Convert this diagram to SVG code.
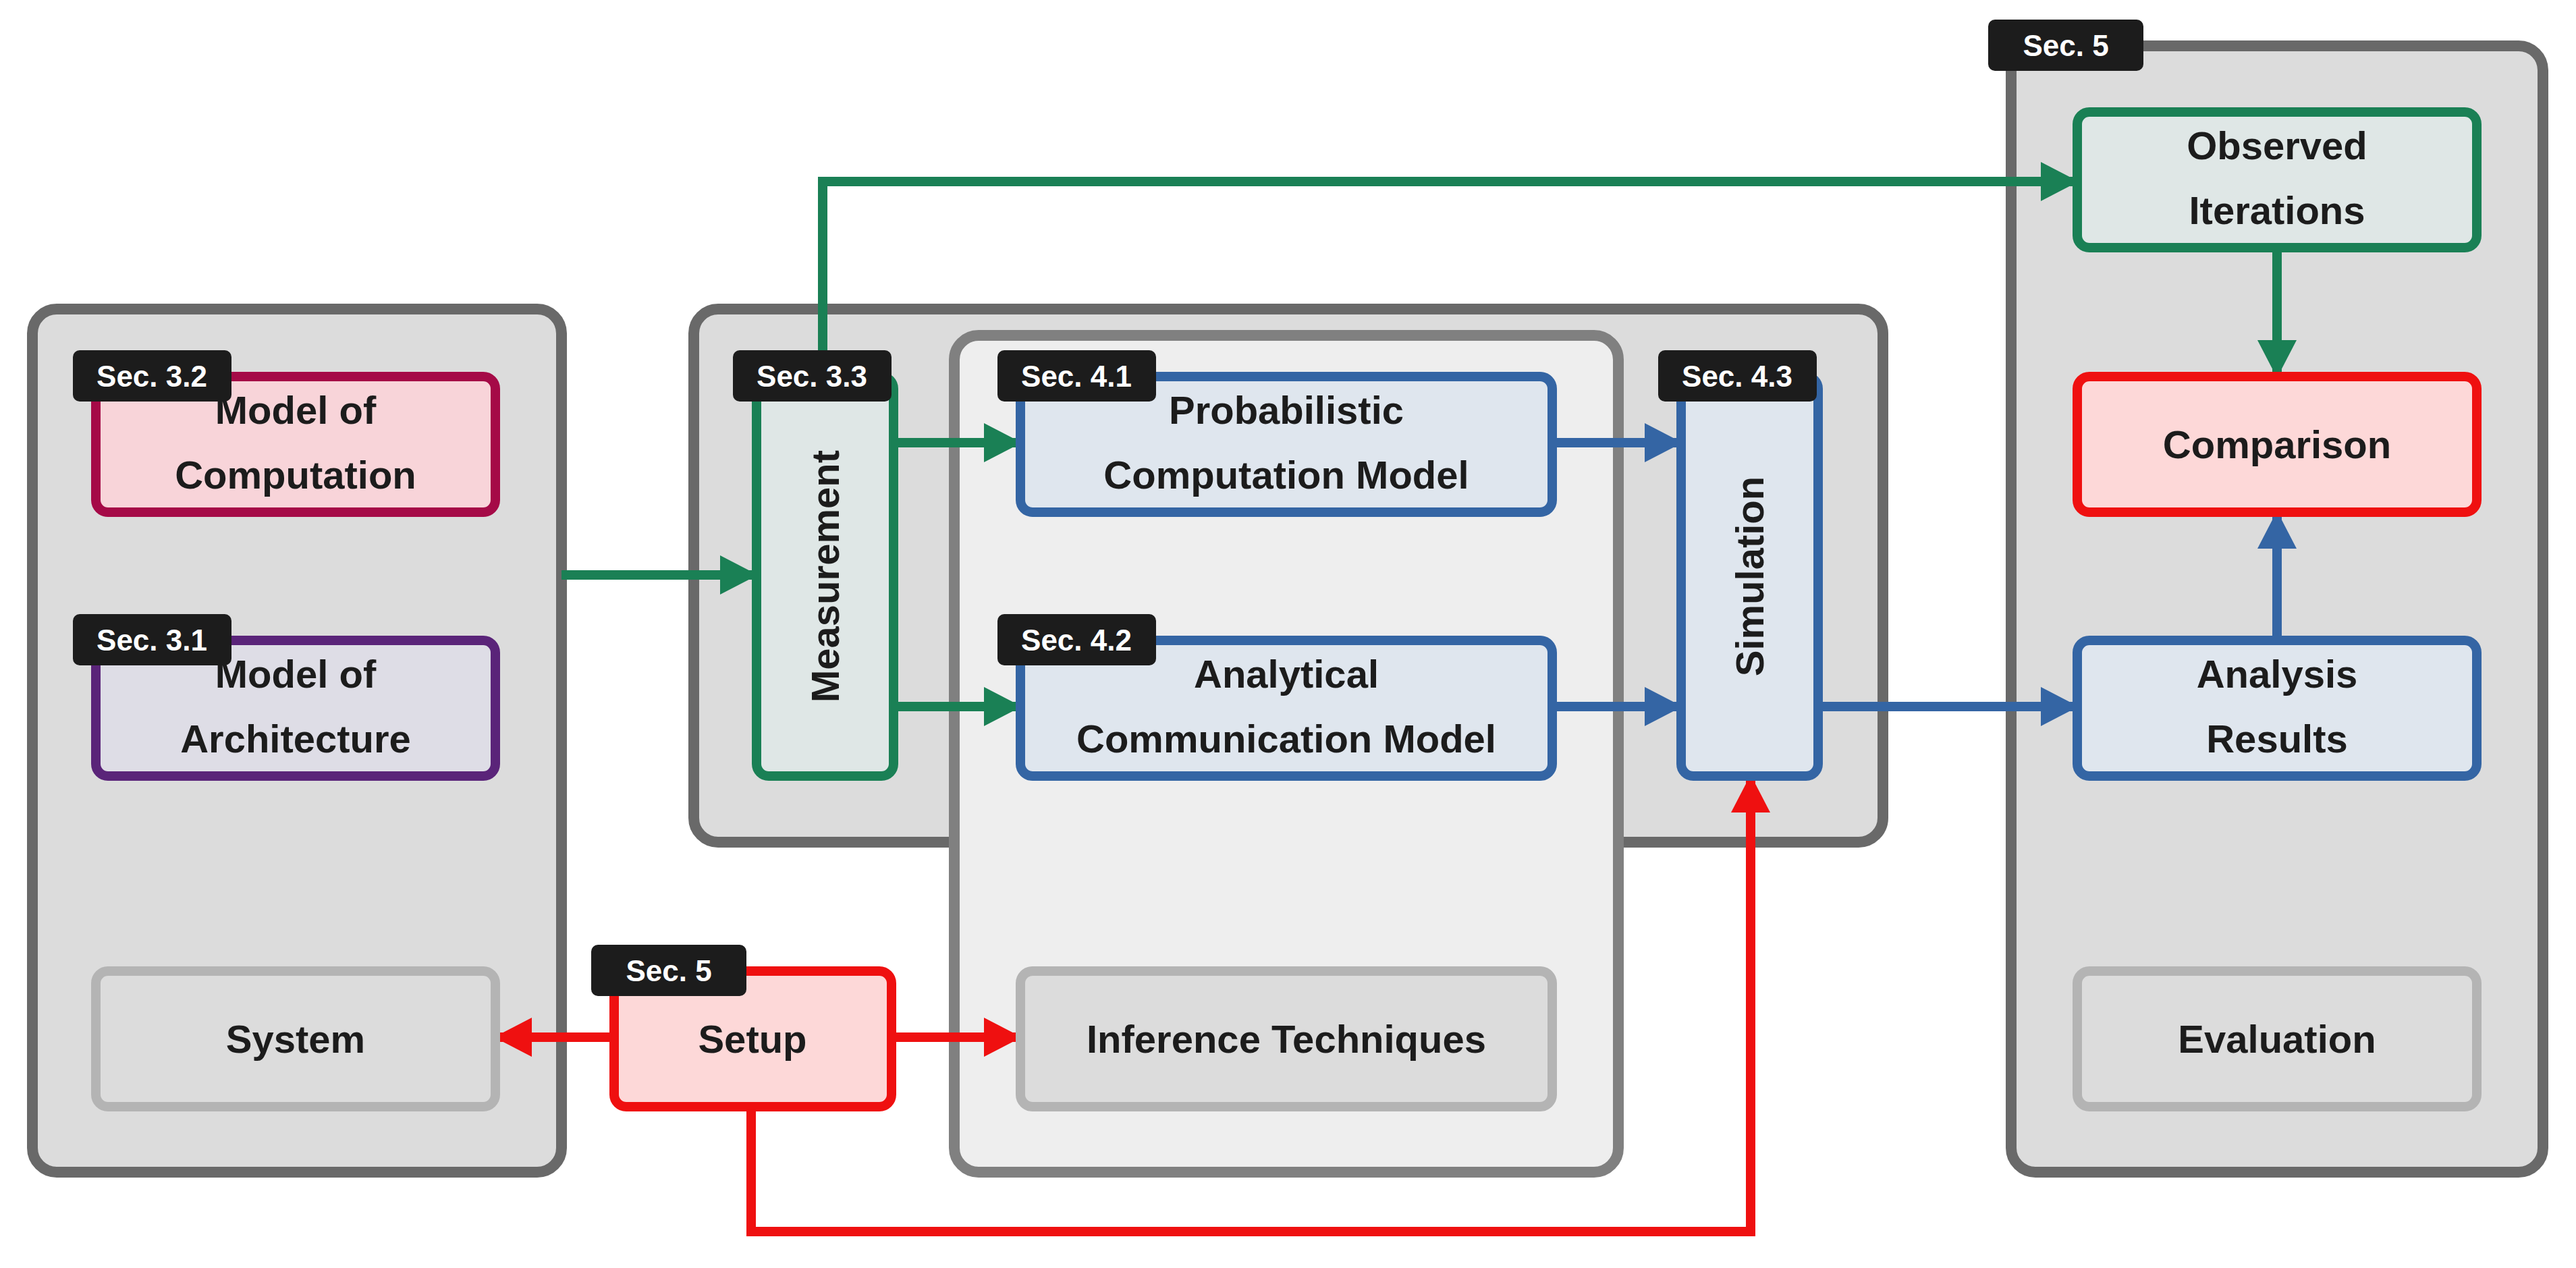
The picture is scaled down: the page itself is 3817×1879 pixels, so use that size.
<svg xmlns="http://www.w3.org/2000/svg" width="3817" height="1879" viewBox="0 0 3817 1879">
<defs>
<style>
.cl{fill:#dcdcdc;stroke:#696969;stroke-width:16}
.ci{fill:#eeeeee;stroke:#808080;stroke-width:16}
.n{stroke-width:14}
.t{font-family:"Liberation Sans",Arial,sans-serif;font-weight:bold;font-size:58px;fill:#1c1c1c;text-anchor:middle}
.b{fill:#1c1c1c}
.bt{font-family:"Liberation Sans",Arial,sans-serif;font-weight:bold;font-size:44px;fill:#fff;text-anchor:middle}
.e{fill:none;stroke-width:14}
.g{stroke:#1a8055}.bl{stroke:#3465a4}.r{stroke:#ef1010}
</style>
<marker id="ag" markerUnits="userSpaceOnUse" markerWidth="56" markerHeight="58" refX="54" refY="29" orient="auto"><path d="M0,0 L56,29 L0,58 z" fill="#1a8055"/></marker>
<marker id="ab" markerUnits="userSpaceOnUse" markerWidth="56" markerHeight="58" refX="54" refY="29" orient="auto"><path d="M0,0 L56,29 L0,58 z" fill="#3465a4"/></marker>
<marker id="ar" markerUnits="userSpaceOnUse" markerWidth="56" markerHeight="58" refX="54" refY="29" orient="auto"><path d="M0,0 L56,29 L0,58 z" fill="#ef1010"/></marker>
</defs>
<rect width="3817" height="1879" fill="#fff"/>
<g id="clusters">
<rect class="cl" x="48" y="458" width="784" height="1279" rx="36"/>
<rect class="cl" x="1028" y="458" width="1762" height="790" rx="36"/>
<rect class="ci" x="1414" y="497" width="984" height="1240" rx="36"/>
<rect class="cl" x="2980" y="68" width="788" height="1669" rx="36"/>
</g>
<g id="connectors">
<path class="e g" d="M832,852 H1121" marker-end="url(#ag)"/>
<path class="e g" d="M1219,558 V269 H3078" marker-end="url(#ag)"/>
<path class="e g" d="M1324,656 H1512" marker-end="url(#ag)"/>
<path class="e g" d="M1324,1047 H1512" marker-end="url(#ag)"/>
<path class="e bl" d="M2300,656 H2491" marker-end="url(#ab)"/>
<path class="e bl" d="M2300,1047 H2491" marker-end="url(#ab)"/>
<path class="e bl" d="M2694,1047 H3078" marker-end="url(#ab)"/>
<path class="e bl" d="M3374,949 V759" marker-end="url(#ab)"/>
<path class="e g" d="M3374,367 V558" marker-end="url(#ag)"/>
<path class="e r" d="M910,1537 H734" marker-end="url(#ar)"/>
<path class="e r" d="M1321,1537 H1512" marker-end="url(#ar)"/>
<path class="e r" d="M1113,1640 V1825 H2594 V1150" marker-end="url(#ar)"/>
</g>
<g id="moc"><rect class="n" x="142" y="558" width="592" height="201" rx="18" fill="#f8d4d9" stroke="#a50a47"/><text class="t" x="438" y="628">Model of</text><text class="t" x="438" y="724">Computation</text></g>
<g id="moa"><rect class="n" x="142" y="949" width="592" height="201" rx="18" fill="#dedde6" stroke="#5a2479"/><text class="t" x="438" y="1019">Model of</text><text class="t" x="438" y="1115">Architecture</text></g>
<g id="system"><rect class="n" x="142" y="1439" width="592" height="201" rx="18" fill="#dcdcdc" stroke="#b4b4b4"/><text class="t" x="438" y="1560">System</text></g>
<g id="measurement"><rect class="n" x="1121" y="558" width="203" height="592" rx="18" fill="#dfe7e6" stroke="#1a8055"/><text class="t" transform="translate(1243,854) rotate(-90)">Measurement</text></g>
<g id="prob"><rect class="n" x="1512" y="558" width="788" height="201" rx="18" fill="#dfe6ee" stroke="#3465a4"/><text class="t" x="1906" y="628">Probabilistic</text><text class="t" x="1906" y="724">Computation Model</text></g>
<g id="anal"><rect class="n" x="1512" y="949" width="788" height="201" rx="18" fill="#dfe6ee" stroke="#3465a4"/><text class="t" x="1906" y="1019">Analytical</text><text class="t" x="1906" y="1115">Communication Model</text></g>
<g id="inference"><rect class="n" x="1512" y="1439" width="788" height="201" rx="18" fill="#dcdcdc" stroke="#b4b4b4"/><text class="t" x="1906" y="1560">Inference Techniques</text></g>
<g id="simulation"><rect class="n" x="2491" y="558" width="203" height="592" rx="18" fill="#dfe6ee" stroke="#3465a4"/><text class="t" transform="translate(2613,854) rotate(-90)">Simulation</text></g>
<g id="setup"><rect class="n" x="910" y="1439" width="411" height="201" rx="18" fill="#fdd8d8" stroke="#ef1010"/><text class="t" x="1115" y="1560">Setup</text></g>
<g id="observed"><rect class="n" x="3078" y="166" width="592" height="201" rx="18" fill="#dfe7e6" stroke="#1a8055"/><text class="t" x="3374" y="236">Observed</text><text class="t" x="3374" y="332">Iterations</text></g>
<g id="comparison"><rect class="n" x="3078" y="558" width="592" height="201" rx="18" fill="#fdd8d8" stroke="#ef1010"/><text class="t" x="3374" y="679">Comparison</text></g>
<g id="results"><rect class="n" x="3078" y="949" width="592" height="201" rx="18" fill="#dfe6ee" stroke="#3465a4"/><text class="t" x="3374" y="1019">Analysis</text><text class="t" x="3374" y="1115">Results</text></g>
<g id="evaluation"><rect class="n" x="3078" y="1439" width="592" height="201" rx="18" fill="#dcdcdc" stroke="#b4b4b4"/><text class="t" x="3374" y="1560">Evaluation</text></g>
<g id="badges">
<rect class="b" x="108" y="519" width="235" height="76" rx="10"/><text class="bt" x="225" y="573">Sec. 3.2</text>
<rect class="b" x="108" y="910" width="235" height="76" rx="10"/><text class="bt" x="225" y="964">Sec. 3.1</text>
<rect class="b" x="1086" y="519" width="235" height="76" rx="10"/><text class="bt" x="1203" y="573">Sec. 3.3</text>
<rect class="b" x="1478" y="519" width="235" height="76" rx="10"/><text class="bt" x="1595" y="573">Sec. 4.1</text>
<rect class="b" x="1478" y="910" width="235" height="76" rx="10"/><text class="bt" x="1595" y="964">Sec. 4.2</text>
<rect class="b" x="2457" y="519" width="235" height="76" rx="10"/><text class="bt" x="2574" y="573">Sec. 4.3</text>
<rect class="b" x="876" y="1400" width="230" height="76" rx="10"/><text class="bt" x="991" y="1454">Sec. 5</text>
<rect class="b" x="2946" y="29" width="230" height="76" rx="10"/><text class="bt" x="3061" y="83">Sec. 5</text>
</g>
</svg>
